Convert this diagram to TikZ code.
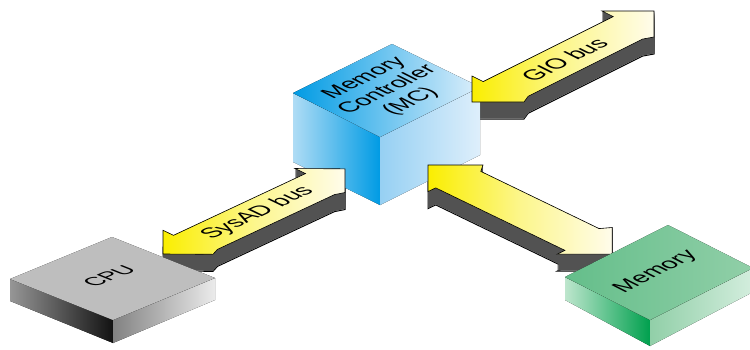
\documentclass[tikz,border=0pt]{standalone}
\usepackage{fontspec}
\setmainfont{Liberation Sans}
\definecolor{ybright}{RGB}{250,238,0}
\definecolor{ypale}{RGB}{255,252,235}
\definecolor{ymid}{RGB}{252,246,140}
\definecolor{shgray}{RGB}{82,82,82}
\definecolor{mcdeep}{RGB}{0,155,228}
\definecolor{mclight}{RGB}{175,220,245}
\definecolor{mcpale}{RGB}{222,239,251}
\definecolor{mcmid}{RGB}{150,208,243}
\definecolor{cpudark}{RGB}{18,18,18}
\definecolor{cpugray}{RGB}{190,190,190}
\definecolor{cpuleft}{RGB}{150,150,150}
\definecolor{cpulight}{RGB}{255,255,255}
\definecolor{cpuside}{RGB}{130,130,130}
\definecolor{cpusidel}{RGB}{235,235,235}
\definecolor{memdeep}{RGB}{0,160,78}
\definecolor{memlight}{RGB}{190,230,205}
\definecolor{memtop}{RGB}{100,190,138}
\definecolor{mempale}{RGB}{212,238,222}
\definecolor{memright}{RGB}{145,207,168}
\tikzset{
  arwshape/.style n args={5}{insert path={(0,0) -- (1,-1) -- ({1+#4},-#2) -- ({#1-1-#4},-#2) -- ({#1-1},-1) -- (#1,0) -- ({#1-1},1) -- ({#1-1-#5},#3) -- ({1+#5},#3) -- (1,1) -- cycle}},
  arwtop/.style={left color=ybright, right color=ypale, middle color=ymid, draw=black, line width=0.6pt, line join=miter},
  lbl/.style 2 args={inner sep=0pt, align=center, font=\fontsize{#1}{#2}\selectfont},
}
\begin{document}
\begin{tikzpicture}[x=1pt,y=-1pt]
\useasboundingbox (0,0) rectangle (750,349);
% ---------- arrow shadows ----------
\begin{scope}[shift={(163,254)}, x={(25pt,11.7pt)}, y={(25pt,-12pt)}]
  \path[draw=black, line width=1pt, yshift=-17pt, arwshape={7.28}{0.58}{0.88}{0}{0.3}];
  \foreach \k in {16.5,16,...,0} \path[fill=shgray, yshift=-\k pt, arwshape={7.28}{0.58}{0.88}{0}{0.3}];
\end{scope}
\begin{scope}[shift={(472,102)}, x={(26pt,13pt)}, y={(26pt,-13pt)}]
  \path[draw=black, line width=1pt, yshift=-17pt, arwshape={7}{0.57}{0.86}{0}{0.3}];
  \foreach \k in {16.5,16,...,0} \path[fill=shgray, yshift=-\k pt, arwshape={7}{0.57}{0.86}{0}{0.3}];
\end{scope}
\begin{scope}[shift={(428,165)}, x={(27.5pt,-13.3pt)}, y={(27.5pt,13.3pt)}]
  \path[draw=black, line width=1pt, yshift=-17pt, arwshape={6.7}{0.72}{0.72}{0}{0.2}];
  \foreach \k in {16.5,16,...,0} \path[fill=shgray, yshift=-\k pt, arwshape={6.7}{0.72}{0.72}{0}{0.2}];
\end{scope}
% ---------- Memory Controller box ----------
\coordinate (mcL) at (293,93);
\coordinate (mcT) at (392,44);
\coordinate (mcR) at (480,87);
\coordinate (mcF) at (380,137);
\coordinate (mcLb) at (293,162);
\coordinate (mcFb) at (380,205);
\coordinate (mcRb) at (480,155);
\fill[left color=mclight, right color=mcdeep] (mcL) -- (mcF) -- (mcFb) -- (mcLb) -- cycle;
\fill[left color=mcmid, right color=mcpale] (mcF) -- (mcR) -- (mcRb) -- (mcFb) -- cycle;
\fill[left color=mcdeep, middle color=mcmid, right color=mcpale] (mcL) -- (mcT) -- (mcR) -- (mcF) -- cycle;
% ---------- arrow tops ----------
\begin{scope}[shift={(163,254)}, x={(25pt,11.7pt)}, y={(25pt,-12pt)}]
  \path[arwtop, arwshape={7.28}{0.58}{0.88}{0}{0.3}];
  \coordinate (sysadc) at (3.64,0.15);
\end{scope}
\begin{scope}[shift={(472,102)}, x={(26pt,13pt)}, y={(26pt,-13pt)}]
  \path[arwtop, arwshape={7}{0.57}{0.86}{0}{0.3}];
  \coordinate (gioc) at (3.4,0.15);
\end{scope}
\begin{scope}[shift={(428,165)}, x={(27.5pt,-13.3pt)}, y={(27.5pt,13.3pt)}]
  \path[arwtop, arwshape={6.7}{0.72}{0.72}{0}{0.2}];
\end{scope}
% ---------- CPU box ----------
\coordinate (cpL) at (10,279);
\coordinate (cpT) at (112,237);
\coordinate (cpR) at (215,278);
\coordinate (cpF) at (113,320);
\coordinate (cpLb) at (10,301);
\coordinate (cpFb) at (113,343);
\coordinate (cpRb) at (215,300);
\fill[left color=cpuleft, right color=cpudark] (cpL) -- (cpF) -- (cpFb) -- (cpLb) -- cycle;
\fill[left color=cpuside, right color=cpusidel] (cpF) -- (cpR) -- (cpRb) -- (cpFb) -- cycle;
\fill[left color=cpugray, middle color=cpulight, right color=cpugray] (cpL) -- (cpT) -- (cpR) -- (cpF) -- cycle;
% ---------- Memory box ----------
\coordinate (mmL) at (565,277);
\coordinate (mmT) at (668,225);
\coordinate (mmR) at (753,268);
\coordinate (mmF) at (650,320);
\coordinate (mmLb) at (565,300);
\coordinate (mmFb) at (650,346);
\coordinate (mmRb) at (753,292);
\fill[left color=memlight, right color=memdeep] (mmL) -- (mmF) -- (mmFb) -- (mmLb) -- cycle;
\fill[left color=memright, right color=mempale] (mmF) -- (mmR) -- (mmRb) -- (mmFb) -- cycle;
\fill[left color=memtop, middle color=mempale, right color=memright] (mmL) -- (mmT) -- (mmR) -- (mmF) -- cycle;
% ---------- labels ----------
\node[lbl={23}{26}, cm={0.896,0.443,-0.892,0.451,(0,0)}] (mctext) at (388,90) {Memory\\Controller\\(MC)};
\node[lbl={23}{26}, cm={0.906,0.424,-0.901,0.433,(0,0)}] (sysadtext) at (sysadc) {SysAD bus};
\node[lbl={23}{26}, cm={0.894,0.447,-0.894,0.447,(0,0)}] (giotext) at (gioc) {GIO bus};
\node[lbl={22}{24}, cm={0.925,0.381,-0.929,0.370,(0,0)}] (cputext) at (109,276) {CPU};
\node[lbl={23}{26}, cm={0.893,0.451,-0.892,0.451,(0,0)}] (memtext) at (656,272) {Memory};
\end{tikzpicture}
\end{document}
